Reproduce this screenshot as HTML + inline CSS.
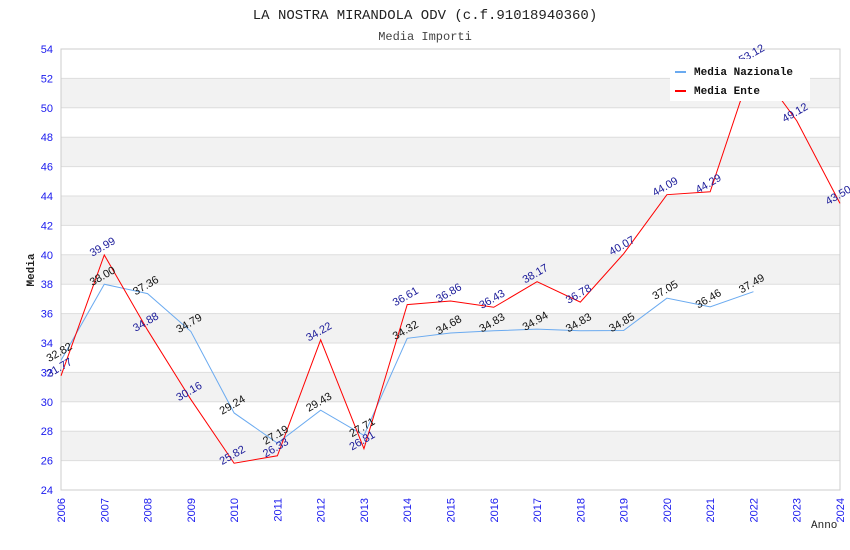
<!DOCTYPE html>
<html><head><meta charset="utf-8">
<style>
html,body{margin:0;padding:0;background:#fff;}
svg{display:block;font-family:"Liberation Sans",sans-serif;}
.mono{font-family:"Liberation Mono",monospace;}
</style></head>
<body>
<svg id="chart" width="850" height="550" viewBox="0 0 850 550">
<text class="mono" x="425" y="19" text-anchor="middle" font-size="14" fill="#222">LA NOSTRA MIRANDOLA ODV (c.f.91018940360)</text>
<text class="mono" x="425" y="40" text-anchor="middle" font-size="12" fill="#444">Media Importi</text>
<g id="bands"></g>
<g id="grid"></g>
<rect x="61" y="49" width="779" height="441" fill="none" stroke="#ccc"/>
<g id="yticks"></g>
<g id="xticks"></g>
<g id="series"></g>
<g id="labels"></g>
<text class="mono" x="34" y="270" text-anchor="middle" font-size="11" font-weight="bold" fill="#222" transform="rotate(-90 34 270)">Media</text>
<text class="mono" x="811" y="528" font-size="11" fill="#222">Anno</text>
<g>
<rect x="670" y="59" width="140" height="42" fill="#fff"/>
<g>
<line x1="675" y1="72" x2="686" y2="72" stroke="#6aaaf0" stroke-width="2"/>
<text class="mono" x="694" y="75" font-size="11" font-weight="bold" fill="#111">Media Nazionale</text>
</g>
<g>
<line x1="675" y1="91" x2="686" y2="91" stroke="#f00" stroke-width="2"/>
<text class="mono" x="694" y="94" font-size="11" font-weight="bold" fill="#111">Media Ente</text>
</g>
</g>
</svg>
<script>
const years = [2006,2007,2008,2009,2010,2011,2012,2013,2014,2015,2016,2017,2018,2019,2020,2021,2022,2023,2024];
const nazionale = [32.82,38.00,37.36,34.79,29.24,27.19,29.43,27.71,34.32,34.68,34.83,34.94,34.83,34.85,37.05,36.46,37.49];
const ente = [31.77,39.99,34.88,30.16,25.82,26.33,34.22,26.81,36.61,36.86,36.43,38.17,36.78,40.07,44.09,44.29,53.12,49.12,43.50];
const yTicks = [24,26,28,30,32,34,36,38,40,42,44,46,48,50,52,54];

const NS = "http://www.w3.org/2000/svg";
const X0=61, X1=840, Y0=490, Y1=49, YMIN=24, YMAX=54;
const xs = i => X0 + (X1-X0) * (years[i]-years[0])/(years[years.length-1]-years[0]);
const ys = v => Y0 - (Y0-Y1) * (v-YMIN)/(YMAX-YMIN);
function mk(tag, attrs, parent){const e=document.createElementNS(NS,tag);for(const k in attrs)e.setAttribute(k,attrs[k]);parent.appendChild(e);return e;}

const bands=document.getElementById('bands'), grid=document.getElementById('grid');
const yt=document.getElementById('yticks'), xt=document.getElementById('xticks');
yTicks.forEach(t=>{
  if(t<YMAX && ((t-26)%4===0)){
    const r=mk('rect',{x:X0,y:ys(t+2),width:X1-X0,height:ys(t)-ys(t+2),fill:'#f2f2f2'},bands);
    
    
  }
  const l=mk('line',{x1:X0,x2:X1,y1:ys(t),y2:ys(t),stroke:'#ddd'},grid);
  
  
  const tx=mk('text',{x:X0-8,y:ys(t)+4,'text-anchor':'end','font-size':11,fill:'#1a1aee'},yt);
  tx.textContent=t;
  
  
});
years.forEach((yr,i)=>{
  const x=xs(i);
  const tx=mk('text',{x:x+4,y:498,'text-anchor':'end','font-size':11,fill:'#1a1aee',transform:`rotate(-90 ${x+4} 498)`},xt);
  tx.textContent=yr;
  
  
});

const ser=document.getElementById('series'), lab=document.getElementById('labels');
function drawSeries(vals,color,name,labColor){
  const pts=vals.map((v,i)=>xs(i)+','+ys(v)).join(' ');
  const pl=mk('polyline',{points:pts,fill:'none',stroke:color,'stroke-width':1},ser);
  
  
  vals.forEach((v,i)=>{
    const x=xs(i), y=ys(v);
    const t=mk('text',{x:x,y:y-5,'text-anchor':'middle','font-size':11,fill:labColor,transform:`rotate(-30 ${x} ${y-5})`},lab);
    t.textContent=v.toFixed(2);
    
    
  });
}
drawSeries(nazionale,'#6aaaf0','nazionale','#111');
drawSeries(ente,'#f00','ente','#1a1a99');
</script>
</body></html>
